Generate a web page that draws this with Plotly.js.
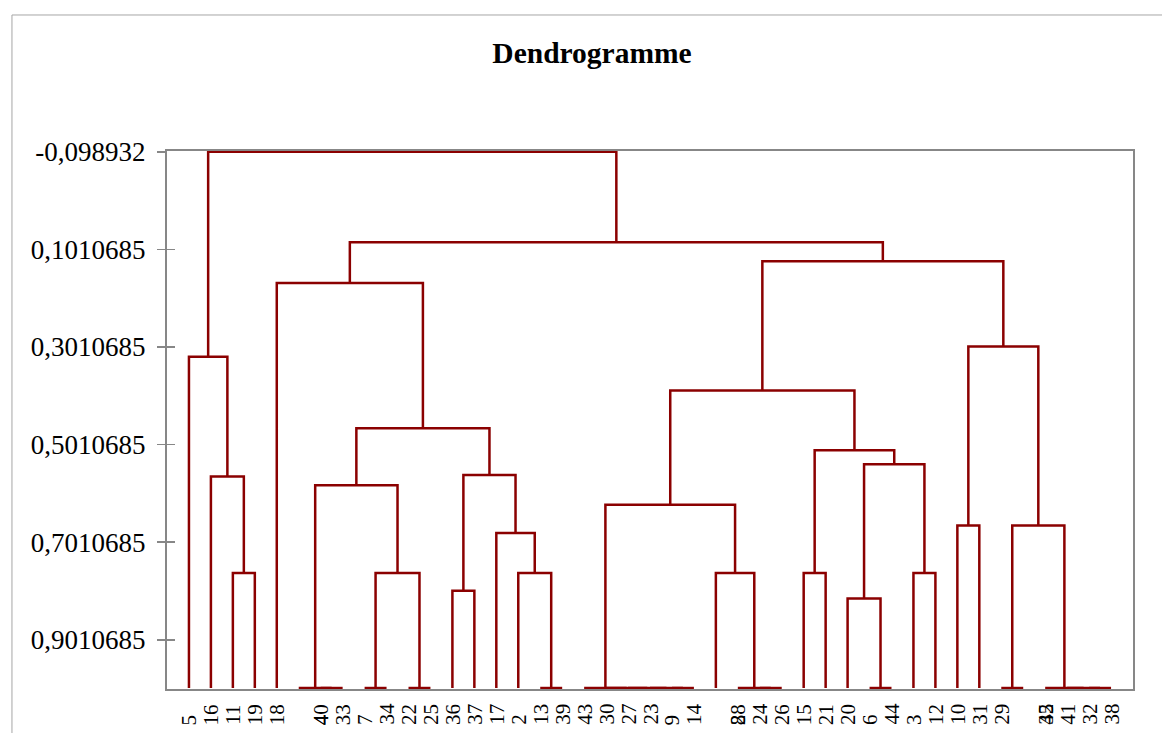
<!DOCTYPE html>
<html><head><meta charset="utf-8">
<script src="https://cdn.plot.ly/plotly-3.0.1.min.js"></script>
<style>html,body{margin:0;padding:0;background:#fff}#chart{width:1162px;height:733px}</style>
</head><body><div id="chart"></div>
<script>
// Leaf labels in dendrogram order (leaf i sits at x = i + 1)
const leafLabels = ['5','16','11','19','18','4','40','33','7','34','22','25','36','37','17','2','13','39','43','30','27','23','9','14','28','8','24','26','15','21','20','6','44','3','12','10','31','29','42','35','41','32','38'];
// Labels the original drew on top of their right-hand neighbour
const shiftedLabels = ['4','28','42'];
// Leaves have level 1 (self-similarity)
const leafLevel = 1.0;
// Merges: ids 0..42 are leaves, merge k gets id 43 + k
const mergeLeft  = [2, 1, 0, 6, 5, 8, 10, 48, 47, 12, 16, 15, 14, 52, 51, 4, 22, 21, 20, 19, 18, 26, 25, 24, 63, 28, 31, 30, 33, 70, 68, 67, 35, 37, 41, 40, 39, 76, 75, 74, 58, 45];
const mergeRight = [3, 43, 44, 7, 46, 9, 11, 49, 50, 13, 17, 53, 54, 55, 56, 57, 23, 59, 60, 61, 62, 27, 64, 65, 66, 29, 32, 69, 34, 71, 72, 73, 36, 38, 42, 77, 78, 79, 80, 81, 82, 83];
const mergeLevel = [0.7641, 0.5663, 0.3210, 1.0, 1.0, 1.0, 1.0, 0.7641, 0.5847, 0.8008, 1.0, 0.7641, 0.6825, 0.5637, 0.4678, 0.1702, 1.0, 1.0, 1.0, 1.0, 1.0, 1.0, 1.0, 0.7641, 0.6242, 0.7641, 1.0, 0.8165, 0.7641, 0.5413, 0.5127, 0.3904, 0.6670, 1.0, 1.0, 1.0, 1.0, 0.6670, 0.3000, 0.1253, 0.0866, -0.098932];
const yTickVals = [-0.098932, 0.1010685, 0.3010685, 0.5010685, 0.7010685, 0.9010685];
const yTickText = ['-0,098932', '0,1010685', '0,3010685', '0,5010685', '0,7010685', '0,9010685'];

const nodeX = leafLabels.map((_, i) => i + 1);
const nodeY = leafLabels.map(() => leafLevel);
const segX = [], segY = [];
mergeLeft.forEach((l, k) => {
  const r = mergeRight[k], h = mergeLevel[k];
  const xl = nodeX[l], xr = nodeX[r];
  segX.push(xl, xl, xr, xr, null);
  segY.push(nodeY[l], h, h, nodeY[r], null);
  nodeX.push((xl + xr) / 2);
  nodeY.push(h);
});

const FONT = 'Liberation Serif, Times New Roman, serif';
const frameColor = '#878787';

const annotations = leafLabels.map((lab, i) => ({
  text: lab,
  x: shiftedLabels.includes(lab) ? i + 2 : i + 1,
  xref: 'x', y: 0, yref: 'paper',
  xanchor: 'center', yanchor: 'bottom', yshift: -38,
  textangle: -90, showarrow: false,
  font: {family: FONT, size: 21, color: '#000'}
}));

const traces = [
  {x: segX, y: segY, type: 'scatter', mode: 'lines',
   line: {color: '#8b0000', width: 2.5}, hoverinfo: 'skip', showlegend: false},
  {x: [null], y: [null], yaxis: 'y2', type: 'scatter', mode: 'lines',
   hoverinfo: 'skip', showlegend: false}
];

const yRange = [1.002, -0.1005];
const layout = {
  width: 1162, height: 733,
  margin: {l: 167, r: 29, t: 151, b: 44, pad: 0},
  paper_bgcolor: '#fff', plot_bgcolor: '#fff',
  font: {family: FONT, color: '#000'},
  showlegend: false,
  title: {text: '<b>Dendrogramme</b>', font: {family: FONT, size: 29.5, color: '#000'},
          xref: 'container', yref: 'container', x: 0.5095, y: 0.928, xanchor: 'center', yanchor: 'middle'},
  xaxis: {range: [0, 44], showgrid: false, zeroline: false, showticklabels: false, ticks: '',
          showline: true, mirror: true, linecolor: frameColor, linewidth: 2, layer: 'below traces', fixedrange: true},
  yaxis: {range: yRange, autorange: false, showgrid: false, zeroline: false,
          tickmode: 'array', tickvals: yTickVals, ticktext: yTickText,
          ticks: 'outside', ticklen: 8, tickwidth: 1.5, tickcolor: frameColor,
          ticklabelstandoff: 6,
          tickfont: {family: FONT, size: 27, color: '#000'},
          showline: true, mirror: true, linecolor: frameColor, linewidth: 2, layer: 'below traces', fixedrange: true},
  yaxis2: {overlaying: 'y', side: 'left', range: yRange, autorange: false, showgrid: false, zeroline: false,
           tickmode: 'array', tickvals: yTickVals, showticklabels: false,
           ticks: 'inside', ticklen: 8, tickwidth: 1.5, tickcolor: frameColor, showline: false, layer: 'below traces'},
  annotations: annotations,
  shapes: [
    {type: 'line', xref: 'paper', yref: 'paper', x0: -0.1605, x1: -0.1605, y0: 1.2528, y1: -0.09,
     line: {color: '#a6a6a6', width: 1}},
    {type: 'line', xref: 'paper', yref: 'paper', x0: -0.1605, x1: 1.04, y0: 1.2528, y1: 1.2528,
     line: {color: '#a6a6a6', width: 1}}
  ]
};

Plotly.newPlot('chart', traces, layout, {staticPlot: true, displayModeBar: false});
</script>
</body></html>
